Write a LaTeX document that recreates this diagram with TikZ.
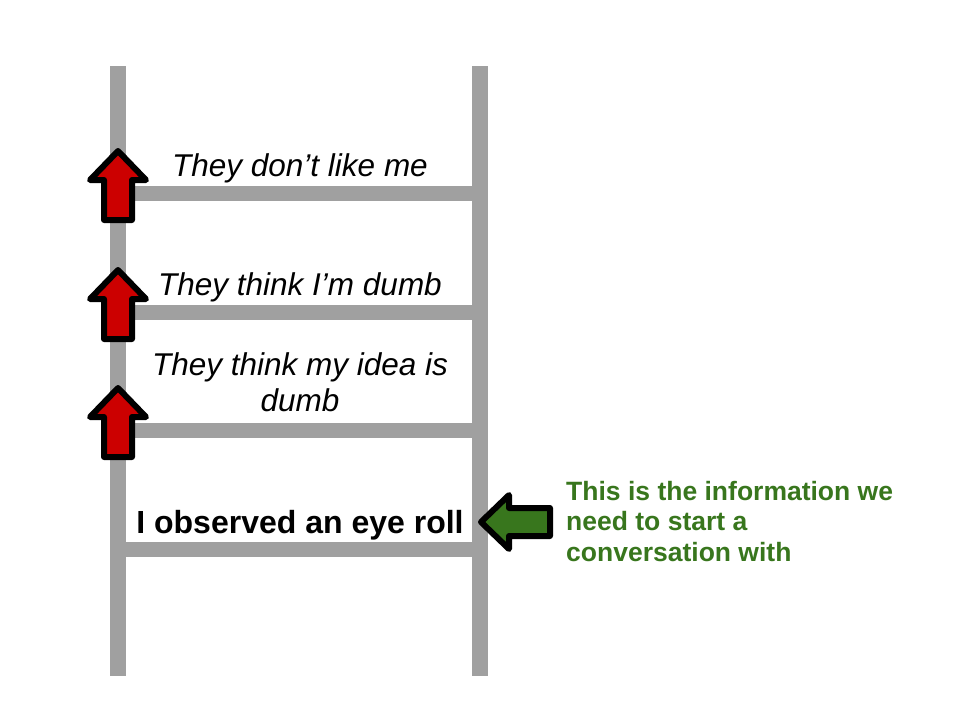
\documentclass[tikz,border=0pt]{standalone}
\usepackage{fontspec}
\setmainfont{Liberation Sans}
\begin{document}
\begin{tikzpicture}[x=1pt,y=-1pt,
  rail/.style={draw=ladder,line width=16pt},
  rung/.style={draw=ladder,line width=15pt},
  uparrow/.style={draw=black,fill=redarrow,line width=6pt,line join=round},
  leftarrow/.style={draw=black,fill=greenarrow,line width=6pt,line join=round},
  itl/.style={font=\fontsize{31.5}{36}\selectfont\itshape,inner sep=0pt,align=center},
  bld/.style={font=\fontsize{32}{38}\selectfont\bfseries,inner sep=0pt},
  note/.style={font=\fontsize{26.5}{30.5}\selectfont\bfseries,text=notegreen,inner sep=0pt,align=left}
]
\definecolor{ladder}{HTML}{A0A0A0}
\definecolor{redarrow}{HTML}{CC0000}
\definecolor{greenarrow}{HTML}{38761D}
\definecolor{notegreen}{HTML}{38761D}
\useasboundingbox[fill=white] (0,0) rectangle (960,720);

% rails
\draw[rail] (118,66) -- (118,676);
\draw[rail] (480,66) -- (480,676);
% rungs
\foreach \y in {193,312,430,549}{
  \draw[rung] (118,\y) -- (480,\y);
}

% red up arrows
\foreach \R in {193,312,430}{
  \draw[uparrow] (118,\R-42) -- (146,\R-13) -- (132,\R-13) -- (132,\R+27)
    -- (104,\R+27) -- (104,\R-13) -- (90,\R-13) -- cycle;
}

% green left arrow
\draw[leftarrow] (481,522) -- (509,495) -- (509,508) -- (550,508)
  -- (550,536) -- (509,536) -- (509,549) -- cycle;

% texts
\node[itl,anchor=base] (t1) at (300,176) {They don’t like me};
\node[itl,anchor=base] (t2) at (300,295) {They think I’m dumb};
\node[itl,anchor=base] (t3) at (300,411) {They think my idea is\\dumb};
\node[bld,anchor=base] (t4) at (300,533) {I observed an eye roll};
\node[note,anchor=base west] (t5) at (566,561) {This is the information we\\need to start a\\conversation with};
\end{tikzpicture}
\end{document}
